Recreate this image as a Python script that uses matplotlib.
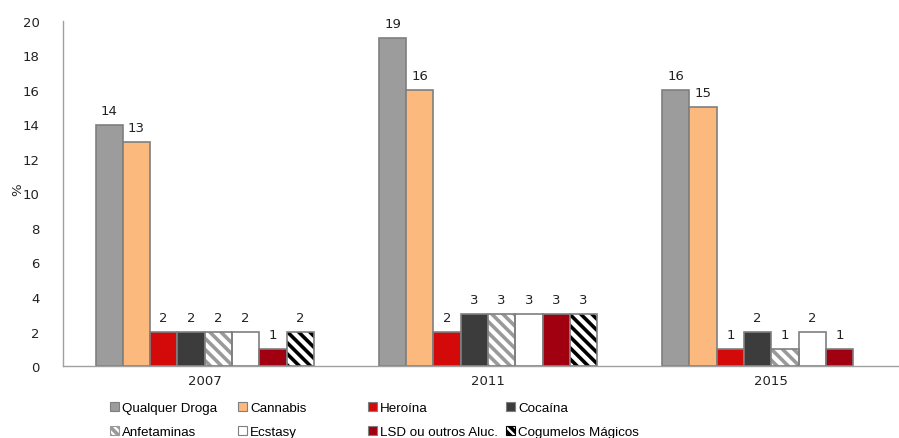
import numpy as np
import matplotlib
matplotlib.use("Agg")
import matplotlib.pyplot as plt
from matplotlib.patches import Patch

years = ["2007", "2011", "2015"]
series = ["Qualquer Droga", "Cannabis", "Heroína", "Cocaína",
          "Anfetaminas", "Ecstasy", "LSD ou outros Aluc.", "Cogumelos Mágicos"]
qualquer = [14, 19, 16]
cannabis = [13, 16, 15]
heroina = [2, 2, 1]
cocaina = [2, 3, 2]
anfetaminas = [2, 3, 1]
ecstasy = [2, 3, 2]
lsd = [1, 3, 1]
cogumelos = [2, 3, np.nan]
values = [qualquer, cannabis, heroina, cocaina, anfetaminas, ecstasy, lsd, cogumelos]

faces = ["#9c9c9c", "#fbb97d", "#d40a0a", "#3c3c3c", "white", "white", "#a00010", "white"]
hatches = [None, None, None, None, "\\\\\\", None, None, "\\\\\\"]
hatch_cols = [None, None, None, None, "#9a9a9a", None, None, "black"]
edge = "#7f7f7f"

plt.rcParams["font.family"] = ["DejaVu Sans"]
plt.rcParams["hatch.linewidth"] = 2.6

fig = plt.figure(figsize=(8.99, 4.39), dpi=100)
ax = fig.add_axes([63/899, 1-367/439, (913-63)/899, (367-22)/439])

x = np.arange(len(years))
w = 0.0963
for i, (vals, fc, h, hc) in enumerate(zip(values, faces, hatches, hatch_cols)):
    pos = x + (i - 3.5) * w
    v = np.array(vals, dtype=float)
    if h is not None:
        ax.bar(pos, v, w, color="white", edgecolor=hc, hatch=h, linewidth=0, zorder=2)
        ax.bar(pos, v, w, fill=False, edgecolor=edge, linewidth=1.2, zorder=3)
    else:
        ax.bar(pos, v, w, color=fc, edgecolor=edge, linewidth=1.2, zorder=2)
    for p, val in zip(pos, v):
        if not np.isnan(val):
            ax.text(p, val + 0.45, f"{int(val)}", ha="center", va="bottom",
                    fontsize=9.5, color="#222222")

ax.set_xlim(-0.5, 2.5)
ax.set_ylim(0, 20)
ax.set_yticks(np.arange(0, 21, 2))
ax.set_xticks(x)
ax.set_xticklabels(years)
ax.tick_params(axis="both", length=0, labelsize=9.5, colors="#222222")
ax.tick_params(axis="y", pad=17)
ax.tick_params(axis="x", pad=6)
for s in ["top", "right"]:
    ax.spines[s].set_visible(False)
for s in ["left", "bottom"]:
    ax.spines[s].set_color("#a0a0a0")
    ax.spines[s].set_linewidth(1.0)
fig.text(18/899, 1-190/439, "%", rotation=90, ha="center", va="center",
         fontsize=9.5, color="#222222")

handles = []
for fc, h, hc in zip(faces, hatches, hatch_cols):
    if h is not None:
        handles.append(Patch(facecolor="white", edgecolor=hc, hatch="\\\\\\\\", linewidth=0.8))
    else:
        handles.append(Patch(facecolor=fc, edgecolor=edge, linewidth=0.8))

col_x = [110, 238, 368, 506]
for c in range(4):
    idx = [c, c + 4]
    fig.legend([handles[k] for k in idx], [series[k] for k in idx],
               ncol=1, loc="upper left", bbox_to_anchor=(col_x[c]/899, 1-403/439),
               frameon=False, prop={"family": "Liberation Sans", "size": 9.6},
               handlelength=0.7, handleheight=0.7,
               handletextpad=0.2, labelspacing=0.85,
               borderaxespad=0, borderpad=0)
fig.savefig("out.png", dpi=100)
